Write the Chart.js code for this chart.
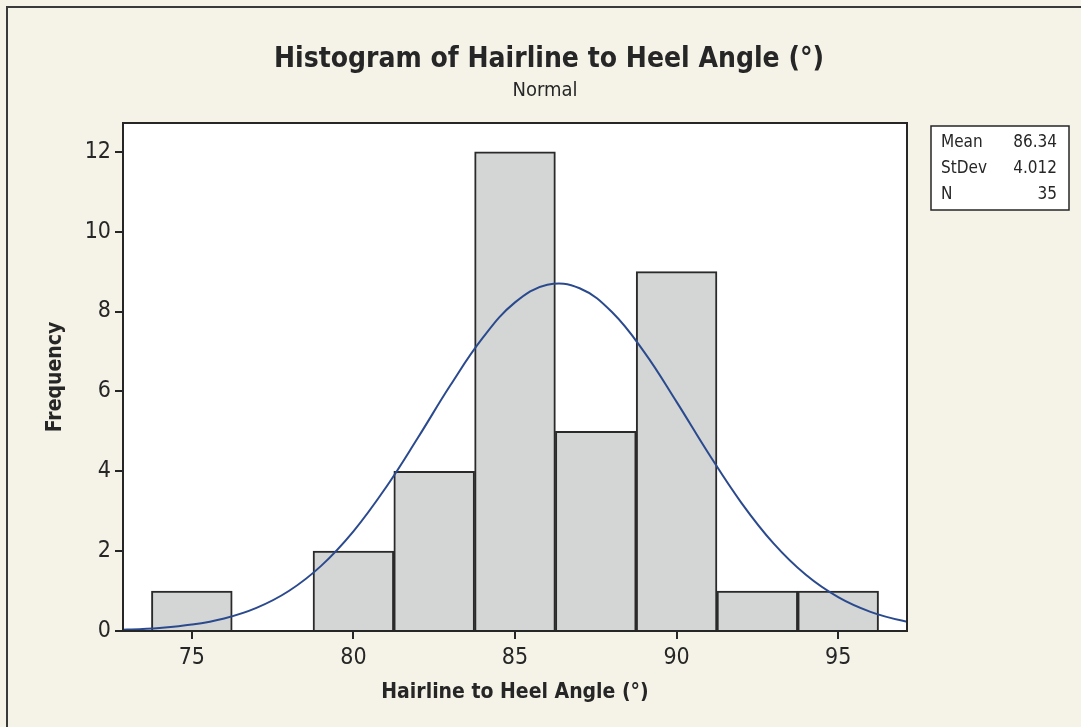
<!DOCTYPE html>
<html><head><meta charset="utf-8">
<script src="https://cdn.jsdelivr.net/npm/chart.js@4.4.1/dist/chart.umd.min.js"></script>
<style>html,body{margin:0;padding:0;background:#f5f3e7;overflow:hidden}</style>
</head><body>
<canvas id="c" width="1081" height="727"></canvas>
<script>
const binCenters = [75, 77.5, 80, 82.5, 85, 87.5, 90, 92.5, 95];
const frequencies = [1, 0, 2, 4, 12, 5, 9, 1, 1];
const curveX = [72, 73, 74, 75, 76, 77, 78, 79, 80, 81, 82, 83, 84, 85, 86, 87, 88, 89, 90, 91, 92, 93, 94, 95, 96, 97, 98];
const curveY = [0.015, 0.035, 0.077, 0.160, 0.314, 0.579, 1.002, 1.631, 2.496, 3.587, 4.845, 6.152, 7.339, 8.228, 8.669, 8.583, 7.987, 6.984, 5.738, 4.432, 3.216, 2.193, 1.406, 0.847, 0.479, 0.255, 0.127];
const xTicks = [75, 80, 85, 90, 95];
const yTicks = [0, 2, 4, 6, 8, 10, 12];
const statLabels = ['Mean', 'StDev', 'N'];
const statValues = ['86.34', '4.012', '35'];
const titleText = 'Histogram of Hairline to Heel Angle (°)';
const subtitleText = 'Normal';
const xTitle = 'Hairline to Heel Angle (°)';
const yTitle = 'Frequency';

const FONT = '"DejaVu Sans Condensed", "DejaVu Sans", sans-serif';
const INK = '#262626';

const decor = {
  id: 'decor',
  beforeDraw(chart) {
    const ctx = chart.ctx, a = chart.chartArea;
    ctx.save();
    ctx.fillStyle = '#f5f3e7';
    ctx.fillRect(0, 0, chart.width, chart.height);
    ctx.strokeStyle = '#3a3a3a';
    ctx.lineWidth = 2;
    ctx.beginPath();
    ctx.moveTo(7, chart.height); ctx.lineTo(7, 7); ctx.lineTo(chart.width, 7);
    ctx.stroke();
    ctx.fillStyle = '#ffffff';
    ctx.fillRect(a.left, a.top, a.right - a.left, a.bottom - a.top);
    ctx.restore();
  },
  afterDatasetsDraw(chart) {
    const ctx = chart.ctx, a = chart.chartArea;
    ctx.save();
    ctx.strokeStyle = INK;
    ctx.lineWidth = 2;
    ctx.strokeRect(a.left, a.top, a.right - a.left, a.bottom - a.top);
    ctx.restore();
  },
  afterDraw(chart) {
    const ctx = chart.ctx;
    ctx.save();
    ctx.fillStyle = INK;
    ctx.textAlign = 'center';
    ctx.textBaseline = 'middle';
    ctx.font = 'bold 28px ' + FONT;
    ctx.fillText(titleText, 549, 60);
    ctx.font = '20px ' + FONT;
    ctx.fillText(subtitleText, 545, 91);
    // stats box
    const bx = 931, by = 126, bw = 138, bh = 84;
    ctx.fillStyle = '#ffffff';
    ctx.fillRect(bx, by, bw, bh);
    ctx.strokeStyle = INK;
    ctx.lineWidth = 1.5;
    ctx.strokeRect(bx, by, bw, bh);
    ctx.fillStyle = INK;
    ctx.font = '17px ' + FONT;
    for (let i = 0; i < statLabels.length; i++) {
      const y = by + 17 + i * 26;
      ctx.textAlign = 'left';
      ctx.fillText(statLabels[i], bx + 10, y);
      ctx.textAlign = 'right';
      ctx.fillText(statValues[i], bx + bw - 12, y);
    }
    ctx.restore();
  }
};

new Chart(document.getElementById('c'), {
  data: {
    datasets: [
      {
        type: 'line',
        data: curveX.map((x, i) => ({ x: x, y: curveY[i] })),
        borderColor: '#2b4a8e',
        borderWidth: 2,
        pointRadius: 0,
        tension: 0.4,
        fill: false,
        order: 0
      },
      {
        type: 'bar',
        data: binCenters.map((x, i) => ({ x: x, y: frequencies[i] })),
        backgroundColor: '#d4d6d6',
        borderColor: '#2a2a2a',
        borderWidth: 2,
        barPercentage: 1,
        categoryPercentage: 1,
        order: 1
      }
    ]
  },
  options: {
    responsive: false,
    animation: false,
    devicePixelRatio: 1,
    layout: { padding: { top: 123, right: 174, left: 0, bottom: 0 } },
    plugins: { legend: { display: false }, tooltip: { enabled: false }, title: { display: false } },
    scales: {
      x: {
        type: 'linear',
        offset: false,
        min: 72.87,
        max: 97.13,
        afterFit(s) { s.height = 96; },
        afterBuildTicks(s) { s.ticks = xTicks.map(v => ({ value: v })); },
        grid: { offset: false, drawOnChartArea: false, drawTicks: true, tickLength: 8, tickColor: INK, lineWidth: 2 },
        border: { display: false },
        ticks: { font: { family: FONT, size: 23 }, color: INK, padding: 5, maxRotation: 0, autoSkip: false },
        title: { display: true, text: xTitle, font: { family: FONT, size: 21, weight: 'bold' }, color: INK, padding: 22 }
      },
      y: {
        type: 'linear',
        min: 0,
        max: 12.72,
        afterFit(s) { s.width = 123; },
        afterBuildTicks(s) { s.ticks = yTicks.map(v => ({ value: v })); },
        grid: { drawOnChartArea: false, drawTicks: true, tickLength: 8, tickColor: INK, lineWidth: 2 },
        border: { display: false },
        ticks: { font: { family: FONT, size: 23 }, color: INK, padding: 4, autoSkip: false },
        title: { display: true, text: yTitle, font: { family: FONT, size: 21, weight: 'bold' }, color: INK, padding: 43 }
      }
    }
  },
  plugins: [decor]
});
</script>
</body></html>
